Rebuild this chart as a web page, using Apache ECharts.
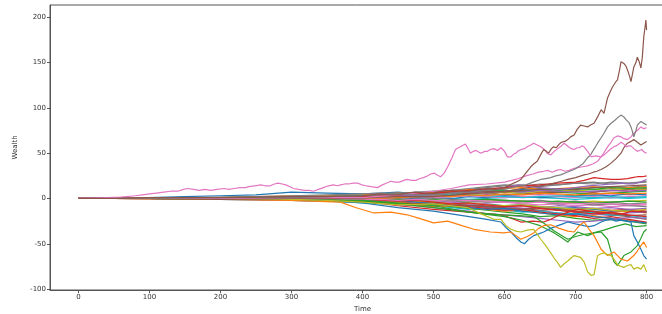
<!DOCTYPE html>
<html><head><meta charset="utf-8">
<script src="https://cdn.jsdelivr.net/npm/echarts@6/dist/echarts.min.js"></script>
<style>html,body{margin:0;padding:0;background:#fff}#c{width:662px;height:314px}</style>
</head><body><div id="c"></div>
<script>
// Tick labels
const XTICKS = [0,100,200,300,400,500,600,700,800];
const YTICKS = [-100,-50,0,50,100,150,200];

// Prominent paths (time, wealth)
const H_T = [0,20,40,60,80,90,100,110,120,130,140,148,154,162,170,178,186,195,205,212,219,228,235,240,248,257,263,270,276,281,287,292,298,303,310,318,325,331,338,345,352,359,365,369,375,380,387,393,399,405,412,421,428,434,440,446,452,458,463,469,475,481,486,492,496,501,505,510,515,520,526,531,535,538,542,545,548,552,556,560,564,567,572,576,580,585,590,595,600,604,609,613,616,620,623,628,632,637,641,646,651,656,660,665,670,675,680,684,690,694,698,702,705,709,712,717,722,728,736,740,743,747,750,754,757,761,764,768,771,775,778,782,787,790,793,797,800];
const H_V = [0,0.5,1,1.5,3,4,5,6,7,8,8,10,11,10,9,10,9,10,11,10,11,12,12,13,14,15,14,14,16,17,16,15,13,11,10,9,9,8,10,12,14,15,14,15,16,16,17,17,15,14,13,12,15,17,19,18,18,20,21,20,20,22,23,25,27,28,26,24,28,35,45,54,56,57,59,60,56,50,52,53,51,50,52,52,54,55,53,56,52,46,46,49,50,53,54,55,57,59,61,59,57,54,50,48,52,55,58,61,57,55,54,56,56,58,57,52,46,47,46,48,50,53,55,57,58,60,62,60,57,58,58,55,52,53,54,51,50];
const B1_T = [0,50,100,150,200,250,300,350,400,412,425,437,450,462,475,487,500,512,525,537,550,562,575,587,600,605,610,616,623,628,633,637,641,646,650,655,659,662,666,669,673,677,680,685,689,693,698,702,707,712,717,721,726,731,736,740,743,745,749,752,756,759,762,764,766,768,771,773,776,778,780,782,785,787,790,792,794,796,798,799,800];
const B1_V = [0,0,1,1,1,1.5,2,2,3,4,5,4,4,6,7,6,6,8,9,8,8,10,11,10,12,14,16,18,21,26,31,35,38,41,47,54,52,50,55,57,56,60,62,63,65,68,70,76,81,80,79,81,83,90,98,94,104,111,118,123,128,131,142,151,150,149,146,142,135,129,137,145,150,156,150,144,156,178,190,197,186];
const G1_T = [0,100,200,300,400,425,450,475,500,525,550,575,600,615,630,640,651,658,665,672,679,688,698,704,710,717,721,724,728,731,736,740,745,750,755,759,764,768,771,775,778,780,782,785,787,792,796,800];
const G1_V = [0,0,1,1,3,4,5,4,4,6,7,9,10,13,15,18,21,22,23,25,26,29,32,35,38,45,48,52,57,61,67,72,79,83,86,89,92,90,87,84,79,74,68,75,81,85,83,81];
const P2_T = [0,100,200,300,400,450,500,525,550,575,600,610,620,630,640,648,655,661,667,673,679,685,691,697,703,710,717,724,731,738,745,750,754,759,764,768,773,778,782,787,792,796,800];
const P2_V = [0,0,0,1,1,4,8,11,15,16,18,20,22,25,27,29,30,31,29,31,32,30,31,33,34,35,36,38,41,48,57,62,67,69,68,66,65,68,72,75,79,77,78];
const B2_T = [0,100,200,300,400,450,500,550,600,625,650,660,670,680,689,700,712,718,725,730,736,743,750,757,764,768,773,778,782,787,792,796,800];
const B2_V = [0,0,-1,0,1,2,2,5,8,11,14,15,17,19,21,23,26,27,29,30,32,35,39,44,50,56,61,63,65,62,59,61,63];
const R1_T = [0,100,200,300,400,450,500,550,600,625,650,675,700,712,726,738,750,762,773,780,787,794,800];
const R1_V = [0,0,1,1,2,4,6,9,12,14,15,17,18,20,23,22,21,21,22,23,24,24,25];
const PU1_T = [0,100,200,300,400,450,500,550,600,620,635,650,665,680,700,718,736,750,764,773,782,791,800];
const PU1_V = [0,0,0,1,1,3,4,8,12,15,13,12,11,10,12,14,15,16,17,16,16,18,21];
const O1_T = [0,100,200,300,350,400,450,500,525,548,567,585,595,602,609,616,623,632,641,651,658,665,670,675,679,684,689,698,707,712,717,722,726,731,736,740,745,750,755,759,764,768,773,778,782,787,792,796,800];
const O1_V = [0,0,0,-1,-2,-4,-7,-6,-8,-10,-17,-23,-23,-30,-34,-36,-37,-35,-34,-45,-52,-60,-66,-71,-76,-72,-69,-63,-65,-70,-81,-85,-84,-63,-61,-60,-62,-63,-68,-73,-75,-76,-74,-73,-78,-76,-78,-73,-81];
const BL1_T = [0,100,200,300,350,400,450,500,525,550,575,595,602,609,616,623,628,634,641,648,655,665,675,682,689,700,712,719,726,736,743,750,757,764,771,778,782,787,792,796,800];
const BL1_V = [0,0,0,-1,-2,-5,-10,-14,-17,-20,-23,-26,-32,-37,-43,-48,-50,-45,-41,-39,-37,-33,-30,-28,-26,-28,-30,-31,-30,-26,-24,-23,-25,-24,-25,-26,-41,-48,-56,-63,-67];
const OR1_T = [0,100,200,300,369,390,416,440,463,480,500,520,540,557,580,599,609,616,623,632,641,648,655,665,677,689,698,705,712,719,726,736,745,754,764,773,782,787,792,796,800];
const OR1_V = [0,0,-1,-2,-4,-10,-16,-15,-18,-22,-27,-25,-30,-34,-37,-38,-37,-41,-45,-42,-38,-33,-30,-29,-33,-36,-37,-30,-26,-34,-41,-56,-63,-59,-67,-69,-63,-58,-52,-48,-54];
const GR1_T = [0,100,200,300,400,450,500,550,600,625,650,660,670,680,689,696,703,710,717,726,736,745,750,754,759,764,768,773,778,783,787,792,796,800];
const GR1_V = [0,0,0,-1,-3,-6,-10,-15,-20,-24,-30,-34,-38,-43,-48,-42,-37,-39,-41,-38,-37,-45,-59,-70,-74,-68,-63,-61,-59,-55,-52,-44,-37,-34];
const GR2_T = [0,100,200,300,400,450,500,550,595,620,641,655,670,689,700,710,725,740,755,770,785,800];
const GR2_V = [0,0,-1,-1,-2,-5,-8,-15,-18,-19,-20,-27,-36,-45,-42,-40,-38,-35,-31,-28,-31,-30];
const R2_T = [0,100,200,300,400,450,500,550,595,610,623,640,655,665,675,690,703,720,735,750,765,780,800];
const R2_V = [0,0,0,-1,-3,-8,-12,-15,-18,-22,-26,-25,-26,-23,-19,-15,-12,-14,-16,-15,-17,-14,-15];

// Band paths, all sampled on T_BAND
const T_BAND = [0,50,100,150,200,250,300,350,400,425,450,475,500,525,550,575,600,625,650,675,700,725,750,775,800];
const BAND_01 = [0,0,0.5,1,1,1.5,2,2,3,3.5,4,4,5,6,5,6,7,8,7,8,9,10,9,10,11];
const BAND_02 = [0,0.5,1,2,3,4,7,6,5,6,7,5,7,6,8,9,8,10,11,9,10,12,13,12,14];
const BAND_03 = [0,0,-0.5,0,-1,-1,-2,-3,-4,-5,-4,-6,-7,-8,-7,-9,-10,-12,-11,-13,-12,-14,-15,-14,-16];
const BAND_04 = [0,0,0.5,1,1,2,2,3,4,3,5,6,5,7,6,5,4,5,6,7,6,5,6,7,8];
const BAND_05 = [0,0,0,-0.5,-1,-1,-1.5,-2,-3,-2,-4,-5,-6,-5,-7,-8,-9,-8,-10,-11,-12,-11,-13,-12,-14];
const BAND_06 = [0,0,0.5,0,0.5,1,1,0,-1,-2,-3,-2,-4,-6,-8,-10,-12,-14,-13,-16,-18,-17,-19,-16,-15];
const BAND_07 = [0,0,0,0.5,1,0.5,0,-1,-2,-3,-4,-5,-6,-8,-7,-9,-10,-11,-13,-12,-14,-16,-18,-20,-23];
const BAND_08 = [0,0,0,0,0.5,0.5,1,1,1.5,2,1,2,3,2,3,4,3,4,5,4,3,4,5,4,5];
const BAND_09 = [0,0,0,0.5,0.5,1,1,2,3,4,5,6,7,9,10,12,14,15,13,15,17,16,18,17,19];
const BAND_10 = [0,0,0,-0.5,-0.5,-1,-1,-1,-2,-1,-2,-3,-2,-3,-4,-3,-2,-3,-4,-5,-4,-3,-4,-3,-2];
const BAND_11 = [0,0,-0.5,-0.5,-1,-1.5,-2,-3,-5,-6,-5,-7,-8,-10,-12,-11,-13,-15,-14,-16,-17,-15,-18,-19,-21];
const BAND_12 = [0,0,0,0.5,1,0.5,1,0,-1,-2,-1,-3,-4,-3,-5,-6,-8,-7,-9,-11,-10,-12,-14,-13,-15];
const BAND_13 = [0,0,0.5,1,1,2,3,3,4,5,6,5,7,8,10,9,11,12,10,11,12,13,11,12,13];
const BAND_14 = [0,0,0,0,-0.5,-1,-1,-2,-3,-4,-6,-5,-7,-9,-11,-13,-15,-17,-20,-19,-22,-24,-23,-25,-28];
const BAND_15 = [0,0,0.5,0.5,1,1,1.5,2,2,3,4,3,5,4,6,5,7,8,7,9,8,7,9,8,10];
const BAND_16 = [0,0,0,-0.5,-0.5,-1,-1,-2,-2,-3,-2,-4,-5,-4,-6,-7,-9,-11,-10,-8,-9,-11,-10,-12,-11];
const BAND_17 = [0,0,0,0.5,0.5,1,1,1,2,1,2,3,4,3,5,6,7,6,5,7,8,7,9,10,11];
const BAND_18 = [0,0,-0.5,-0.5,-1,-1,-1.5,-2,-3,-2,-3,-4,-3,-5,-6,-5,-4,-6,-7,-6,-8,-7,-9,-8,-7];
const BAND_19 = [0,0,0,-0.5,-0.5,0,0,-1,-1,-2,-1,-2,-3,-2,-3,-4,-3,-5,-4,-6,-5,-7,-6,-8,-9];
const BAND_20 = [0,0,0.5,0.5,1,1,1,1.5,2,3,2,3,4,5,4,6,7,6,8,9,8,10,9,11,10];
const BAND_21 = [0,0,0,0.5,0.5,0.5,1,1,1,0,1,2,1,0,-1,0,1,2,1,0,-1,0,1,0,1];
const BAND_22 = [0,0,0,0,0.5,0.5,0,-0.5,-1,0,-1,0,1,0,2,1,3,2,1,2,3,4,3,5,4];
const BAND_23 = [0,0,-0.5,-0.5,-1,-1,-1.5,-2,-3,-4,-5,-7,-9,-8,-10,-12,-14,-13,-16,-18,-20,-19,-22,-24,-27];
const BAND_24 = [0,0,0,0.5,0.5,1,2,2,3,2,4,3,5,6,7,8,9,8,10,9,11,10,12,11,12];
const BAND_25 = [0,0,0,0,-0.5,-0.5,-1,-1,-2,-3,-4,-6,-5,-7,-9,-11,-13,-12,-15,-17,-19,-22,-20,-23,-26];
const BAND_26 = [0,0,0,0.5,1,1,1,2,3,4,3,5,4,6,7,6,8,7,9,8,7,8,9,8,9];
const BAND_27 = [0,0,0,-0.5,-0.5,-1,-1,-2,-2,-1,-2,-3,-5,-6,-8,-9,-11,-12,-10,-13,-15,-14,-17,-19,-18];
const BAND_28 = [0,0,0,0,0,0.5,0.5,1,1,2,1,2,1,2,3,2,1,2,3,2,1,2,1,2,3];
const BAND_29 = [0,0,0,0.5,0.5,0.5,1,0,0,-1,0,1,0,-1,-2,-1,-2,-3,-2,-4,-3,-5,-4,-6,-5];
const BAND_30 = [0,0,0,-0.5,-1,-1,-1.5,-2,-2,-3,-4,-3,-4,-6,-5,-7,-8,-7,-9,-10,-12,-11,-13,-14,-12];
const BAND_31 = [0,0,0,0,0.5,1,1,2,3,2,3,4,3,5,4,3,2,1,2,3,2,1,2,1,2];
const BAND_32 = [0,0,0,-0.5,-0.5,-1,-1,-1,-2,-3,-2,-4,-6,-8,-10,-12,-11,-14,-16,-18,-17,-20,-22,-25,-27];
const BAND_33 = [0,0,0,0.5,0.5,1,1.5,2,1,0,1,2,3,2,4,3,5,4,6,5,4,5,6,5,6];
const BAND_34 = [0,0,0,0,0,-0.5,-0.5,-1,-1,-2,-1,-2,-1,-3,-2,-1,-2,-3,-4,-3,-4,-5,-4,-3,-4];
const BAND_35 = [0,0,0,0.5,0.5,1,1,0,-1,-2,-3,-2,-4,-6,-5,-7,-9,-8,-11,-13,-15,-17,-16,-18,-20];
const BAND_36 = [0,0,0,-0.5,-1,-1.5,-2,-3,-4,-5,-7,-8,-10,-12,-14,-17,-18,-20,-22,-24,-26,-25,-23,-21,-22];
const BAND_37 = [0,0,0,0,0.5,1,1.5,2,2.5,3,4,5,4,6,7,8,7,9,10,11,10,12,13,14,15];
const BAND_38 = [0,0,0,0,-0.5,-0.5,-1,-1,-1.5,-1,-2,-1,-2,-3,-2,-3,-4,-5,-4,-5,-6,-5,-6,-7,-6];
const BAND_39 = [0,0,0.5,1,1.5,2,3,4,5,6,5,7,8,9,11,13,15,14,16,15,17,18,16,17,18];

const BANDS = [BAND_01,BAND_02,BAND_03,BAND_04,BAND_05,BAND_06,BAND_07,BAND_08,BAND_09,BAND_10,
  BAND_11,BAND_12,BAND_13,BAND_14,BAND_15,BAND_16,BAND_17,BAND_18,BAND_19,BAND_20,
  BAND_21,BAND_22,BAND_23,BAND_24,BAND_25,BAND_26,BAND_27,BAND_28,BAND_29,BAND_30,
  BAND_31,BAND_32,BAND_33,BAND_34,BAND_35,BAND_36,BAND_37,BAND_38,BAND_39];

const TAB10 = ['#1f77b4','#ff7f0e','#2ca02c','#d62728','#9467bd','#8c564b','#e377c2','#7f7f7f','#bcbd22','#17becf'];
const BAND_COLOR_START = 9; // first band path is cyan

const zip = (t, v) => t.map((x, i) => [x, v[i]]);
const mk = (data, color) => ({
  type: 'line', data, showSymbol: false, symbol: 'none', silent: true,
  lineStyle: { width: 1.2, color }, color, animation: false
});

const series = [];
BANDS.forEach((v, i) => series.push(mk(zip(T_BAND, v), TAB10[(BAND_COLOR_START + i) % 10])));
series.push(mk(zip(R2_T, R2_V), TAB10[3]));
series.push(mk(zip(GR2_T, GR2_V), TAB10[2]));
series.push(mk(zip(GR1_T, GR1_V), TAB10[2]));
series.push(mk(zip(BL1_T, BL1_V), TAB10[0]));
series.push(mk(zip(OR1_T, OR1_V), TAB10[1]));
series.push(mk(zip(O1_T, O1_V), TAB10[8]));
series.push(mk(zip(PU1_T, PU1_V), TAB10[4]));
series.push(mk(zip(R1_T, R1_V), TAB10[3]));
series.push(mk(zip(B2_T, B2_V), TAB10[5]));
series.push(mk(zip(P2_T, P2_V), TAB10[6]));
series.push(mk(zip(G1_T, G1_V), TAB10[7]));
series.push(mk(zip(H_T, H_V), TAB10[6]));
series.push(mk(zip(B1_T, B1_V), TAB10[5]));

const font = 'DejaVu Sans';
const chart = echarts.init(document.getElementById('c'), null, { renderer: 'canvas' });
chart.setOption({
  animation: false,
  backgroundColor: '#fff',
  grid: { left: 50, top: 5, width: 625, height: 285, outerBoundsMode: 'none', containLabel: false,
          show: true, borderColor: '#555', borderWidth: 1, backgroundColor: 'transparent' },
  xAxis: {
    type: 'value', min: -40, max: 840,
    name: 'Time', nameLocation: 'middle', nameGap: 15,
    nameTextStyle: { fontFamily: font, fontSize: 7, color: '#333' },
    axisLine: { show: true, onZero: false, lineStyle: { color: '#555', width: 1 } },
    axisTick: { show: true, length: 3, lineStyle: { color: '#555' }, customValues: XTICKS },
    axisLabel: { fontFamily: font, fontSize: 7, color: '#333', margin: 4, customValues: XTICKS },
    splitLine: { show: false }
  },
  yAxis: {
    type: 'value', min: -101, max: 213.5,
    name: 'Wealth', nameLocation: 'middle', nameGap: 31, nameRotate: 90,
    nameTextStyle: { fontFamily: font, fontSize: 7, color: '#333' },
    axisLine: { show: true, onZero: false, lineStyle: { color: '#555', width: 1 } },
    axisTick: { show: true, length: 3, lineStyle: { color: '#555' }, customValues: YTICKS },
    axisLabel: { fontFamily: font, fontSize: 7, color: '#333', margin: 4, customValues: YTICKS },
    splitLine: { show: false }
  },
  series
});
</script>
</body></html>
